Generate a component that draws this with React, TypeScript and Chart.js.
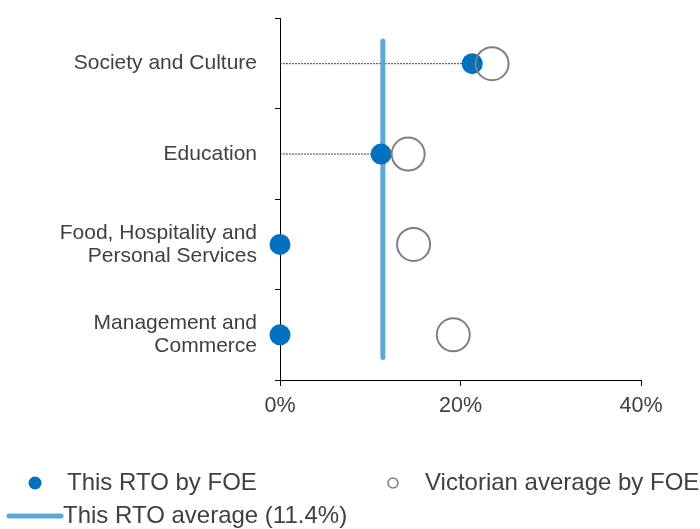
import React, { useEffect, useRef } from "react";
import { Chart, registerables } from "chart.js";

Chart.register(...registerables);

const categories: (string | string[])[] = [
  "Society and Culture",
  "Education",
  ["Food, Hospitality and", "Personal Services"],
  ["Management and", "Commerce"],
];
const categoryKeys = ["Society and Culture", "Education", "Food, Hospitality and Personal Services", "Management and Commerce"];
const rtoValues = [21.3, 11.2, 0, 0];
const vicValues = [23.5, 14.2, 14.8, 19.2];
const rtoAverage = 11.4;
const xTicks = [0, 20, 40];
const legendRtoLabel = "This RTO by FOE";
const legendVicLabel = "Victorian average by FOE";
const legendAvgLabel = `This RTO average (${rtoAverage}%)`;

const FONT = "'Liberation Sans', Arial, Helvetica, sans-serif";
const TEXT = "#404040";
const BLUE = "#0070c0";
const LIGHT = "#5aa9dc";
const GREY = "#7f7f7f";

const legendPlugin = {
  id: "customLegend",
  afterDraw(chart: any) {
    const ctx = chart.ctx as CanvasRenderingContext2D;
    ctx.save();
    ctx.font = `24px ${FONT}`;
    ctx.textBaseline = "alphabetic";
    ctx.textAlign = "left";
    // item 1
    ctx.beginPath();
    ctx.fillStyle = BLUE;
    ctx.arc(35, 483, 6.5, 0, Math.PI * 2);
    ctx.fill();
    ctx.fillStyle = TEXT;
    ctx.fillText(legendRtoLabel, 67, 490);
    // item 2
    ctx.beginPath();
    ctx.strokeStyle = GREY;
    ctx.lineWidth = 1.5;
    ctx.arc(393, 483, 5, 0, Math.PI * 2);
    ctx.stroke();
    ctx.fillText(legendVicLabel, 425, 490);
    // item 3
    ctx.beginPath();
    ctx.strokeStyle = LIGHT;
    ctx.lineWidth = 5;
    ctx.lineCap = "round";
    ctx.moveTo(9, 516);
    ctx.lineTo(61, 516);
    ctx.stroke();
    ctx.fillText(legendAvgLabel, 63, 523);
    ctx.restore();
  },
};

export default function App() {
  const ref = useRef<HTMLCanvasElement | null>(null);
  useEffect(() => {
    document.body.style.margin = "0";
    const connectors = rtoValues
      .map((v, i) => ({ v, i }))
      .filter((d) => d.v > 0)
      .map((d) => ({
        type: "line" as const,
        data: [
          { x: 0, y: categoryKeys[d.i] },
          { x: d.v, y: categoryKeys[d.i] },
        ],
        showLine: true,
        borderColor: "#444444",
        borderWidth: 1,
        borderDash: [2, 1],
        pointRadius: 0,
        order: 3,
        yAxisID: "y",
        clip: false,
      }));
    const chart = new Chart(ref.current!, {
      type: "scatter",
      data: {
        datasets: [
          {
            label: legendVicLabel,
            data: vicValues.map((v, i) => ({ x: v, y: categoryKeys[i] })),
            pointRadius: 16.5,
            pointBackgroundColor: "rgba(0,0,0,0)",
            pointBorderColor: GREY,
            pointBorderWidth: 2,
            order: 0,
            yAxisID: "y",
            clip: false,
          } as any,
          {
            label: legendRtoLabel,
            data: rtoValues.map((v, i) => ({ x: v, y: categoryKeys[i] })),
            pointRadius: 10.5,
            pointBackgroundColor: BLUE,
            pointBorderWidth: 0,
            order: 1,
            yAxisID: "y",
            clip: false,
          } as any,
          {
            label: legendAvgLabel,
            data: [
              { x: rtoAverage, y: 0.25 },
              { x: rtoAverage, y: 3.75 },
            ],
            showLine: true,
            borderColor: LIGHT,
            borderWidth: 5,
            borderCapStyle: "round",
            pointRadius: 0,
            order: 2,
            yAxisID: "y2",
            clip: false,
          } as any,
          ...(connectors as any[]),
        ],
      },
      options: {
        animation: false,
        responsive: true,
        maintainAspectRatio: false,
        layout: { padding: { top: 16, right: 59, bottom: 109, left: 0 } },
        plugins: { legend: { display: false }, tooltip: { enabled: false }, title: { display: false } },
        scales: {
          x: {
            type: "linear",
            min: 0,
            max: 40,
            afterBuildTicks: (s: any) => {
              s.ticks = xTicks.map((v) => ({ value: v }));
            },
            afterFit: (s: any) => {
              s.height = 40;
            },
            ticks: {
              callback: (v: any) => `${v}%`,
              font: { family: FONT, size: 21.5 },
              color: TEXT,
              padding: 7,
            },
            grid: { drawOnChartArea: false, drawTicks: true, tickLength: 6, color: "#000", lineWidth: 1 },
            border: { color: "#000", width: 1 },
          },
          y: {
            type: "category",
            labels: categoryKeys,
            offset: true,
            afterFit: (s: any) => {
              s.width = 280;
              s.paddingTop = 0;
              s.paddingBottom = 0;
            },
            ticks: {
              callback: (_v: any, i: number) => categories[i] as any,
              font: { family: FONT, size: 21, lineHeight: 1.1 },
              color: TEXT,
              padding: 18,
            },
            grid: { offset: true, drawOnChartArea: false, drawTicks: true, tickLength: 5, color: "#000", lineWidth: 1 },
            border: { color: "#000", width: 1 },
          },
          y2: {
            type: "linear",
            min: 0,
            max: 4,
            reverse: true,
            display: false,
          },
        },
      } as any,
      plugins: [legendPlugin],
    });
    return () => chart.destroy();
  }, []);
  return (
    <div style={{ position: "relative", width: 700, height: 529 }}>
      <canvas ref={ref} />
    </div>
  );
}
